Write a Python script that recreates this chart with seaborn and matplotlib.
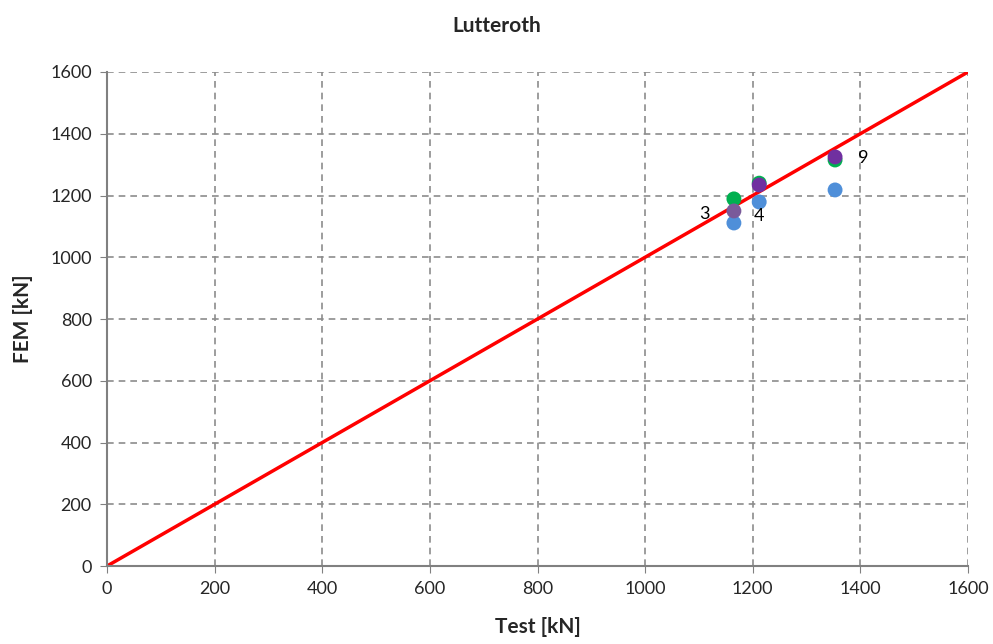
import matplotlib
matplotlib.use("Agg")
import matplotlib.pyplot as plt
import seaborn as sns
import pandas as pd

# Data
test_blue = [1165, 1212, 1353]
fem_blue = [1111, 1179, 1218]
test_green = [1165, 1212, 1353]
fem_green = [1189, 1240, 1315]
test_purple = [1212, 1353]
fem_purple = [1234, 1325]
test_mauve = [1165]
fem_mauve = [1150]
label_text = ["3", "4", "9"]
label_x = [1165, 1212, 1353]
label_y = [1150, 1179, 1325]
ref_line = [0, 1600]
ticks = [0, 200, 400, 600, 800, 1000, 1200, 1400, 1600]

sns.set_style("white")
plt.rcParams['font.family'] = ['Lato', 'DejaVu Sans']

fig = plt.figure(figsize=(9.93, 6.44), dpi=100)
ax = fig.add_axes([0.1078, 0.1211, 0.8670, 0.7671])

ax.plot(ref_line, ref_line, color='#FF0000', lw=2.5, zorder=2)

series = [
    (test_blue, fem_blue, '#4F8FD9'),
    (test_green, fem_green, '#00B050'),
    (test_purple, fem_purple, '#7030A0'),
    (test_mauve, fem_mauve, '#7A5A9A'),
]
for xs, ys, c in series:
    df = pd.DataFrame({'x': xs, 'y': ys})
    sns.scatterplot(data=df, x='x', y='y', color=c, s=115, edgecolor='none',
                    ax=ax, zorder=3)

offsets = [(-21, -2), (0, -10), (20, -1)]
for t, x, y, (dx, dy) in zip(label_text, label_x, label_y, offsets):
    ax.annotate(t, (x, y), xytext=(dx, dy), textcoords='offset points',
                ha='center', va='center', fontsize=13, color='black')

ax.set_xlim(0, 1600)
ax.set_ylim(0, 1600)
ax.set_xticks(ticks)
ax.set_yticks(ticks)
ax.tick_params(axis='both', labelsize=13, length=5, color='#808080',
               direction='out', pad=6, left=True, bottom=True)
ax.grid(True, color='#8C8C8C', linestyle=(0, (4, 3)), lw=1.2)
for s in ['top', 'right']:
    ax.spines[s].set_visible(False)
for s in ['left', 'bottom']:
    ax.spines[s].set_color('#808080')
    ax.spines[s].set_linewidth(1.5)

ax.set_xlabel('Test [kN]', fontsize=15, fontweight='bold', labelpad=14)
ax.set_ylabel('FEM [kN]', fontsize=15, fontweight='bold', labelpad=12)
fig.suptitle('Lutteroth', fontsize=15, fontweight='bold', y=0.975)

fig.savefig('out.png', dpi=100)
